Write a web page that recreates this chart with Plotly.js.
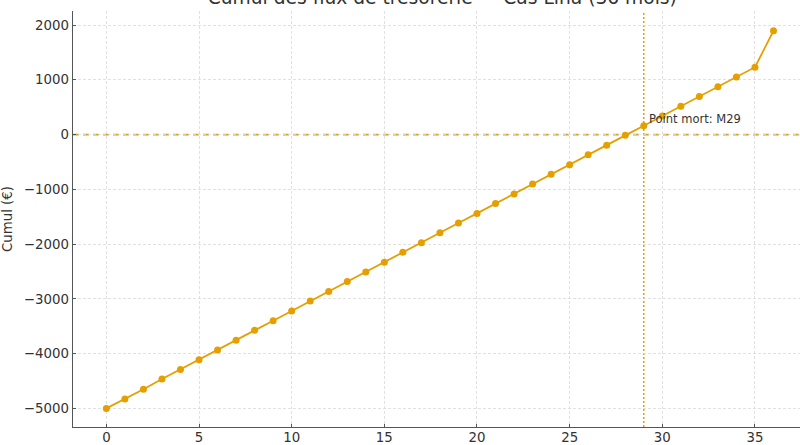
<!DOCTYPE html>
<html>
<head>
<meta charset="utf-8">
<script src="https://cdn.plot.ly/plotly-3.0.1.min.js"></script>
<style>html,body{margin:0;padding:0;background:#fff;}#chart{width:800px;height:445px;}</style>
</head>
<body>
<div id="chart"></div>
<script>
const months = [0,1,2,3,4,5,6,7,8,9,10,11,12,13,14,15,16,17,18,19,20,21,22,23,24,25,26,27,28,29,30,31,32,33,34,35,36];
const cumul = [-5000,-4830,-4650,-4465,-4290,-4110,-3935,-3755,-3575,-3400,-3220,-3040,-2865,-2685,-2510,-2330,-2150,-1975,-1795,-1615,-1440,-1260,-1085,-905,-725,-550,-370,-195,-15,160,340,515,695,875,1050,1230,1895];
const breakEvenMonth = 29;
const breakEvenLabel = "Point mort: M29";
const xTicks = [0,5,10,15,20,25,30,35];
const yTicks = [-5000,-4000,-3000,-2000,-1000,0,1000,2000];

const color = "#E69F00";
const font = "DejaVu Sans, Verdana, sans-serif";

const trace = {
  x: months, y: cumul, type: "scatter", mode: "lines+markers",
  line: {color: color, width: 1.8},
  marker: {color: color, size: 7},
  hoverinfo: "skip"
};

const axisCommon = {
  showline: true, linecolor: "#555", linewidth: 1.4, mirror: false,
  ticks: "inside", ticklen: 3, tickcolor: "#555", tickwidth: 1,
  showgrid: true, gridcolor: "#d9d9d9", gridwidth: 0.8, griddash: "3px,2px",
  zeroline: false,
  tickfont: {family: font, size: 13.33, color: "#333"}
};

const layout = {
  width: 800, height: 445,
  margin: {l: 73, r: 0, t: 11, b: 18},
  paper_bgcolor: "#fff", plot_bgcolor: "#fff",
  showlegend: false,
  title: {text: "Cumul des flux de trésorerie — Cas Lina (36 mois)",
          font: {family: font, size: 18.67, color: "#333"},
          xref: "paper", x: 0.508, xanchor: "center",
          yref: "container", y: 0.991, yanchor: "bottom"},
  xaxis: Object.assign({}, axisCommon, {
    range: [-1.8, 37.43], tickmode: "array", tickvals: xTicks,
    ticklabelstandoff: -2
  }),
  yaxis: Object.assign({}, axisCommon, {
    range: [-5340, 2256], tickmode: "array", tickvals: yTicks,
    title: {text: "Cumul (€)", font: {family: font, size: 13.33, color: "#333"}, standoff: 8}
  }),
  shapes: [
    {type: "line", xref: "paper", x0: 0, x1: 1, yref: "y", y0: 0, y1: 0,
     line: {color: color, width: 1.8, dash: "6px,4px"}, layer: "below"},
    {type: "line", xref: "x", x0: breakEvenMonth, x1: breakEvenMonth, yref: "paper", y0: 0, y1: 1,
     line: {color: color, width: 1.5, dash: "2px,2px"}, layer: "below"}
  ],
  annotations: [
    {x: breakEvenMonth + 0.2, y: 280, xref: "x", yref: "y", text: breakEvenLabel,
     showarrow: false, xanchor: "left", yanchor: "middle",
     font: {family: font, size: 11.5, color: "#333"}}
  ]
};

Plotly.newPlot("chart", [trace], layout, {displayModeBar: false, staticPlot: true});
</script>
</body>
</html>
